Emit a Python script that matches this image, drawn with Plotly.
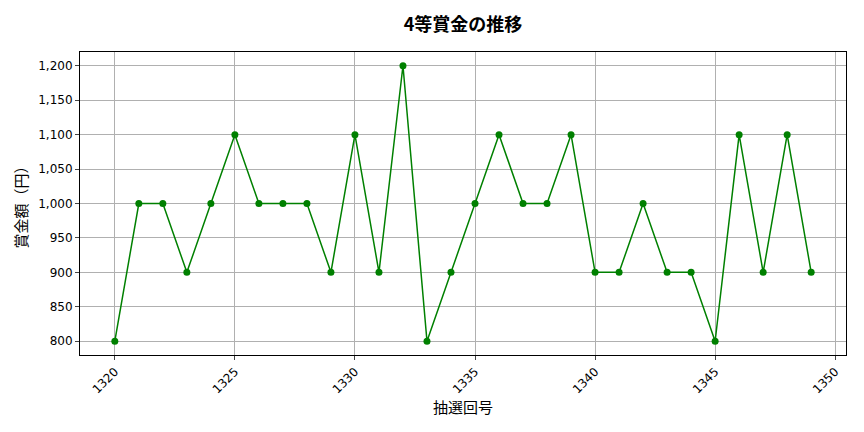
import plotly.graph_objects as go

draws = list(range(1320, 1350))
prize = [800, 1000, 1000, 900, 1000, 1100, 1000, 1000, 1000, 900,
         1100, 900, 1200, 800, 900, 1000, 1100, 1000, 1000, 1100,
         900, 900, 1000, 900, 900, 800, 1100, 900, 1100, 900]

font = "Noto Sans CJK JP"
tick_font = dict(family="DejaVu Sans", size=12, color="black")

fig = go.Figure(go.Scatter(
    x=draws, y=prize, mode="lines+markers",
    line=dict(color="green", width=1.5),
    marker=dict(color="green", size=7),
))

# the page has an 8px body margin, so margins are shifted by that
fig.update_layout(
    width=864, height=432,
    margin=dict(l=72, r=26, t=44, b=85),
    paper_bgcolor="white", plot_bgcolor="white",
    font=dict(family=font, color="black", size=11),
    title=dict(text="<b>4等賞金の推移</b>", x=455 / 864, xanchor="center",
               y=1 - 17 / 432, yanchor="middle", font=dict(size=18)),
    showlegend=False,
    xaxis=dict(
        range=[1318.55, 1350.45], tickvals=[1320, 1325, 1330, 1335, 1340, 1345, 1350],
        tickangle=-45, tickfont=tick_font, showgrid=True, gridcolor="#b0b0b0", gridwidth=0.8,
        showline=True, linecolor="black", linewidth=1, mirror=True,
        ticks="outside", ticklen=4, zeroline=False, automargin=False,
        title=dict(text="抽選回号", font=dict(size=15), standoff=6),
    ),
    yaxis=dict(
        range=[780, 1220], tickvals=[800, 850, 900, 950, 1000, 1050, 1100, 1150, 1200],
        tickformat=",d", tickfont=tick_font, showgrid=True, gridcolor="#b0b0b0", gridwidth=0.8,
        showline=True, linecolor="black", linewidth=1, mirror=True,
        ticks="outside", ticklen=4, zeroline=False, automargin=False,
        title=dict(text="賞金額（円）", font=dict(size=15), standoff=6),
    ),
)

fig.write_html("out.html")
